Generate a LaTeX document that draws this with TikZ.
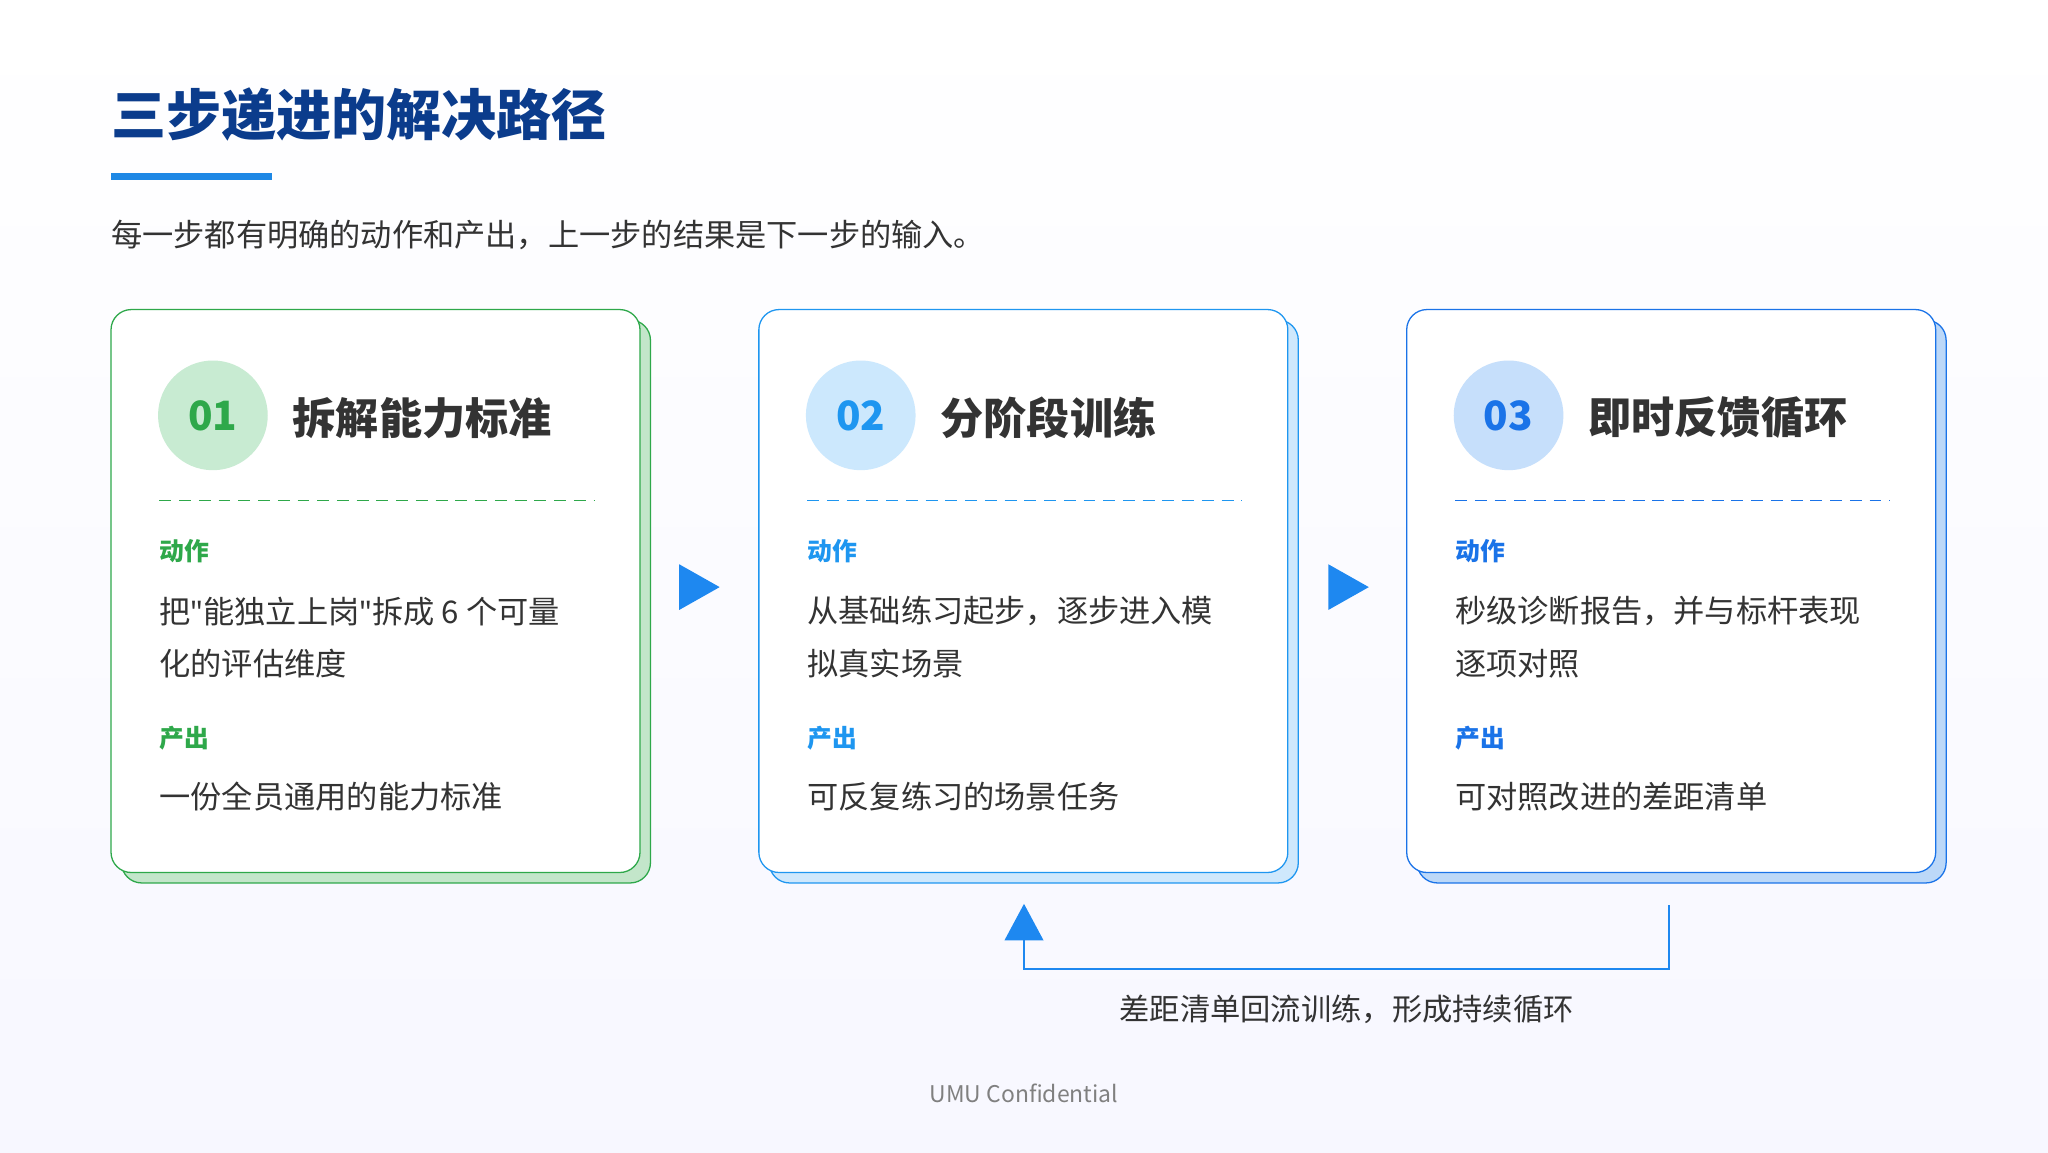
\documentclass[tikz,border=0pt]{standalone}
\usepackage{fontspec}
\setmainfont{Noto Sans CJK SC}
\newfontfamily\qfont{Noto Sans}
\newcommand{\myq}{{\qfont\symbol{34}}}
\usetikzlibrary{shapes.geometric}
\definecolor{titleblue}{HTML}{0B3C8C}
\definecolor{barblue}{HTML}{1E88E5}
\definecolor{txt}{HTML}{333333}
\definecolor{gA}{HTML}{2EA84A}\definecolor{gAs}{HTML}{C3E6CA}\definecolor{gAc}{HTML}{C8EBD2}
\definecolor{gB}{HTML}{1E96F0}\definecolor{gBs}{HTML}{CFE8FC}\definecolor{gBc}{HTML}{CCE8FD}
\definecolor{gC}{HTML}{1A73E8}\definecolor{gCs}{HTML}{BCD8F8}\definecolor{gCc}{HTML}{C6DFFB}
\definecolor{arr}{HTML}{1E88F0}
\begin{document}
\begin{tikzpicture}[x=0.05cm,y=-0.05cm,
  card/.style={draw=#1,line width=1.4pt,fill=white,rounded corners=22},
  shadow/.style={draw=#1,line width=1.4pt,rounded corners=22},
  circ/.style={circle,minimum size=119.5pt,inner sep=0,fill=#1},
  num/.style={font=\bfseries\fontsize{44}{48}\selectfont},
  head/.style={anchor=west,text=txt,font=\bfseries\fontsize{47}{52}\selectfont,inner sep=0},
  lab/.style={anchor=west,font=\bfseries\fontsize{27}{30}\selectfont,inner sep=0},
  body/.style={anchor=west,text=txt,font=\fontsize{34}{40}\selectfont,inner sep=0},
  tri/.style={fill=arr,draw=none}]
\fill[top color=white,bottom color=blue!3] (0,0) rectangle (1568,882);
\useasboundingbox (0,0) rectangle (1568,882);
\node[anchor=west,inner sep=0,text=titleblue,font=\bfseries\fontsize{60}{64}\selectfont] (title) at (85,88) {三步递进的解决路径};
\fill[barblue] (85,132.5) rectangle (208,137.5);
\node[anchor=west,inner sep=0,text=txt,font=\fontsize{34}{38}\selectfont] (sub) at (85,180) {每一步都有明确的动作和产出，上一步的结果是下一步的输入。};
\foreach \x/\c/\s/\cc/\n/\h/\la/\lb/\o [count=\i] in {
 85/gA/gAs/gAc/01/拆解能力标准/{把\myq 能独立上岗\myq 拆成 6 个可量}/{化的评估维度}/一份全员通用的能力标准,
 581/gB/gBs/gBc/02/分阶段训练/{从基础练习起步，逐步进入模}/{拟真实场景}/可反复练习的场景任务,
 1077/gC/gCs/gCc/03/即时反馈循环/{秒级诊断报告，并与标杆表现}/{逐项对照}/可对照改进的差距清单}{
  \filldraw[shadow=\c,fill=\s] (\x+8,245) rectangle (\x+413,676);
  \draw[card=\c] (\x,237) rectangle (\x+405,668);
  \node[circ=\cc,text=\c,num] (c\i) at (\x+78,318) {\n};
  \node[head] (h\i) at (\x+139,320) {\h};
  \draw[\c,line width=1.3pt,dash pattern=on 13pt off 8.5pt] (\x+37,383) -- (\x+370,383);
  \node[lab,text=\c] (a\i) at (\x+37,422) {动作};
  \node[body] (b\i) at (\x+37,468) {\la};
  \node[body] (bb\i) at (\x+37,508) {\lb};
  \node[lab,text=\c] (p\i) at (\x+37,565) {产出};
  \node[body] (o\i) at (\x+37,610) {\o};
}
\fill[tri] (520,432) -- (551,449.5) -- (520,467) -- cycle;
\fill[tri] (1017,432) -- (1048,449.5) -- (1017,467) -- cycle;
\coordinate (ls) at (1278,693);
\coordinate (le) at (784,718);
\draw[arr,line width=2pt] (ls) -- (1278,742) -- (784,742) -- (le);
\fill[tri] (769,720) -- (784,692) -- (799,720) -- cycle;
\node[inner sep=0,text=txt,font=\fontsize{33}{36}\selectfont] (loop) at (1031,773) {差距清单回流训练，形成持续循环};
\node[inner sep=0,text=gray,font=\fontsize{25}{28}\selectfont] (conf) at (784,837) {UMU Confidential};
\end{tikzpicture}
\end{document}
